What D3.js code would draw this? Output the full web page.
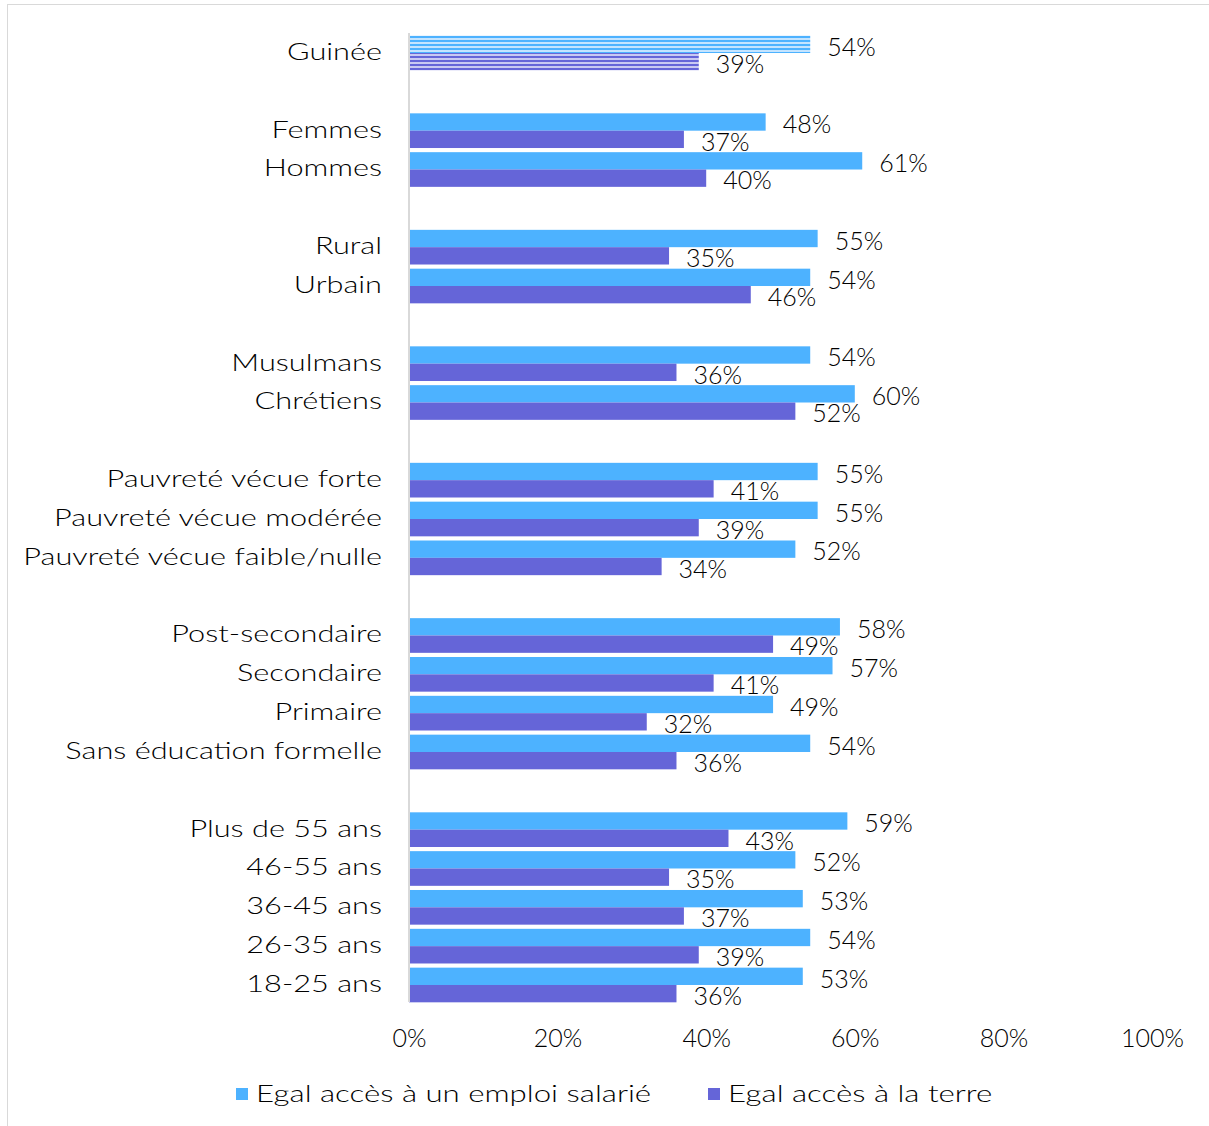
<!DOCTYPE html>
<html>
<head>
<meta charset="utf-8">
<title>Egal accès</title>
<style>
  body { margin: 0; background: #fff; }
  text { font-family: "Lato", "DejaVu Sans", sans-serif; font-weight: 300; fill: #000; }
</style>
</head>
<body>
<svg width="1209" height="1126"></svg>
<script src="https://d3js.org/d3.v7.min.js"></script>
<script>

// rows top to bottom; "" marks the blank row between groups
var categories = ["Guinée", "",
  "Femmes", "Hommes", "",
  "Rural", "Urbain", "",
  "Musulmans", "Chrétiens", "",
  "Pauvreté vécue forte", "Pauvreté vécue modérée", "Pauvreté vécue faible/nulle", "",
  "Post-secondaire", "Secondaire", "Primaire", "Sans éducation formelle", "",
  "Plus de 55 ans", "46-55 ans", "36-45 ans", "26-35 ans", "18-25 ans"];

var emploi = [54, null, 48, 61, null, 55, 54, null, 54, 60, null, 55, 55, 52, null, 58, 57, 49, 54, null, 59, 52, 53, 54, 53];
var terre  = [39, null, 37, 40, null, 35, 46, null, 36, 52, null, 41, 39, 34, null, 49, 41, 32, 36, null, 43, 35, 37, 39, 36];

var seriesNames = ["Egal accès à un emploi salarié", "Egal accès à la terre"];
var ticks = [0, 20, 40, 60, 80, 100];

var colors = ["#4DB2FF", "#6565D8"];
var stretch = 1.28; // the original font is much wider than Lato

var svg = d3.select("svg");

// outer frame
svg.append("rect")
    .attr("x", 7.5).attr("y", 4.5)
    .attr("width", 1215).attr("height", 1140)
    .attr("fill", "none").attr("stroke", "#d9d9d9");

var defs = svg.append("defs");
[["stripeBlue", colors[0], "#c4e4ff"], ["stripePurple", colors[1], "#c9c9f2"]].forEach(function(p) {
  var pat = defs.append("pattern")
      .attr("id", p[0]).attr("patternUnits", "userSpaceOnUse")
      .attr("width", 8).attr("height", 4);
  pat.append("rect").attr("width", 8).attr("height", 4).attr("fill", p[2]);
  pat.append("rect").attr("width", 8).attr("height", 2).attr("fill", p[1]);
});

var rows = categories.map(function(c, i) { return {key: "r" + i, name: c, emploi: emploi[i], terre: terre[i], idx: i}; });

var x = d3.scaleLinear().domain([0, 100]).range([409, 1152]);
var y = d3.scaleBand().domain(rows.map(function(d) { return d.key; })).range([33.6, 1004.4]);
var sub = d3.scaleBand().domain(["emploi", "terre"]).range([0, y.bandwidth()]).paddingOuter(0.12);

// bars
var g = svg.append("g");
rows.filter(function(d) { return d.name !== ""; }).forEach(function(d) {
  ["emploi", "terre"].forEach(function(k, j) {
    var fill = d.idx === 0 ? (j === 0 ? "url(#stripeBlue)" : "url(#stripePurple)") : colors[j];
    var y0 = y(d.key) + sub(k);
    g.append("rect")
        .attr("x", x(0)).attr("y", y0)
        .attr("width", x(d[k]) - x(0)).attr("height", sub.bandwidth())
        .attr("fill", fill);
    g.append("text")
        .attr("x", x(d[k]) + 17)
        .attr("y", y0 + sub.bandwidth() / 2 + 5)
        .attr("dominant-baseline", "middle")
        .attr("font-size", 25)
        .text(d[k] + "%");
  });
  g.append("text")
      .attr("transform", "translate(382," + (y(d.key) + y.bandwidth() / 2 + 1) + ") scale(" + stretch + ",1)")
      .attr("dominant-baseline", "middle")
      .attr("text-anchor", "end")
      .attr("font-size", 24)
      .text(d.name);
});

// vertical axis line
svg.append("line")
    .attr("x1", x(0)).attr("x2", x(0))
    .attr("y1", 33).attr("y2", 1002)
    .attr("stroke", "#d9d9d9").attr("stroke-width", 2);

// x axis tick labels
var xAxis = d3.axisBottom(x).tickValues(ticks).tickFormat(function(v) { return v + "%"; }).tickSize(0);
var ax = svg.append("g").attr("transform", "translate(0,1026)").call(xAxis);
ax.select(".domain").remove();
ax.selectAll("text").attr("font-size", 25).attr("font-family", null).attr("fill", "#000");

// legend
var legendX = [236, 708];
seriesNames.forEach(function(n, i) {
  svg.append("rect")
      .attr("x", legendX[i]).attr("y", 1088)
      .attr("width", 12).attr("height", 12)
      .attr("fill", colors[i]);
  svg.append("text")
      .attr("transform", "translate(" + (legendX[i] + 20) + ",1096) scale(1.3,1)")
      .attr("dominant-baseline", "middle")
      .attr("font-size", 24)
      .text(n);
});

</script>
</body>
</html>
